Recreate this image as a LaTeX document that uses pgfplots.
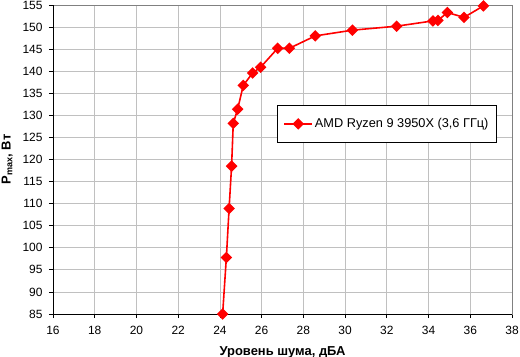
\documentclass[border=0pt]{standalone}
\usepackage{pgfplots}
\pgfplotsset{compat=1.18}
\usepackage{fontspec}
\setmainfont{Liberation Sans}
\definecolor{gridgray}{RGB}{192,192,192}
\definecolor{boxgray}{RGB}{128,128,128}
\begin{document}
\begin{tikzpicture}
\path[use as bounding box] (-53bp,-43bp) rectangle (467bp,314bp);
\begin{axis}[
  at={(0,0)}, anchor=south west,
  scale only axis, width=459bp, height=309bp,
  xmin=16, xmax=38, ymin=85, ymax=155,
  xtick={16,18,...,38}, ytick={85,90,...,155},
  grid=major,
  major grid style={draw=gridgray, line width=0.8pt},
  axis line style={draw=boxgray, line width=0.8pt},
  tick align=outside, xtick pos=left, ytick pos=left,
  major tick length=4bp,
  tick style={black, line width=0.8pt},
  /pgf/number format/assume math mode=true,
  tick label style={font=\fontsize{12}{13}\selectfont},
  xticklabel style={yshift=-5bp},
  yticklabel style={xshift=-3bp},
  xlabel={\bfseries Уровень шума, дБА},
  ylabel={\bfseries P\textsubscript{max}, Вт},
  label style={font=\fontsize{13}{14}\selectfont},
  xlabel style={yshift=-5bp},
  ylabel style={yshift=3bp},
  clip=false,
  legend style={at={(rel axis cs:0.488,0.676)}, anchor=north west,
    draw=black, line width=0.8pt, inner xsep=6bp, inner ysep=11bp,
    font=\fontsize{12.8}{14}\selectfont},
  legend cell align=left,
  legend image code/.code={\draw[mark repeat=2,mark phase=2,#1] plot coordinates {(0bp,0bp) (14bp,0bp) (28bp,0bp)};},
]
\draw[black, line width=0.8pt] (rel axis cs:0,0) -- (rel axis cs:0,1);
\draw[black, line width=0.8pt] (rel axis cs:0,0) -- (rel axis cs:1,0);
\addplot[red, line width=1.6pt, mark=square*, mark size=3.3bp, mark options={rotate=45, solid, fill=red}] coordinates {
(24.13,85)
(24.31,97.8)
(24.44,108.9)
(24.56,118.5)
(24.64,128.2)
(24.85,131.4)
(25.12,136.8)
(25.57,139.6)
(25.95,140.9)
(26.77,145.2)
(27.33,145.2)
(28.57,148.0)
(30.35,149.3)
(32.47,150.2)
(34.21,151.4)
(34.45,151.5)
(34.9,153.3)
(35.7,152.2)
(36.63,154.8)
};
\addlegendentry{AMD Ryzen 9 3950X (3,6 ГГц)}
\end{axis}
\end{tikzpicture}
\end{document}
